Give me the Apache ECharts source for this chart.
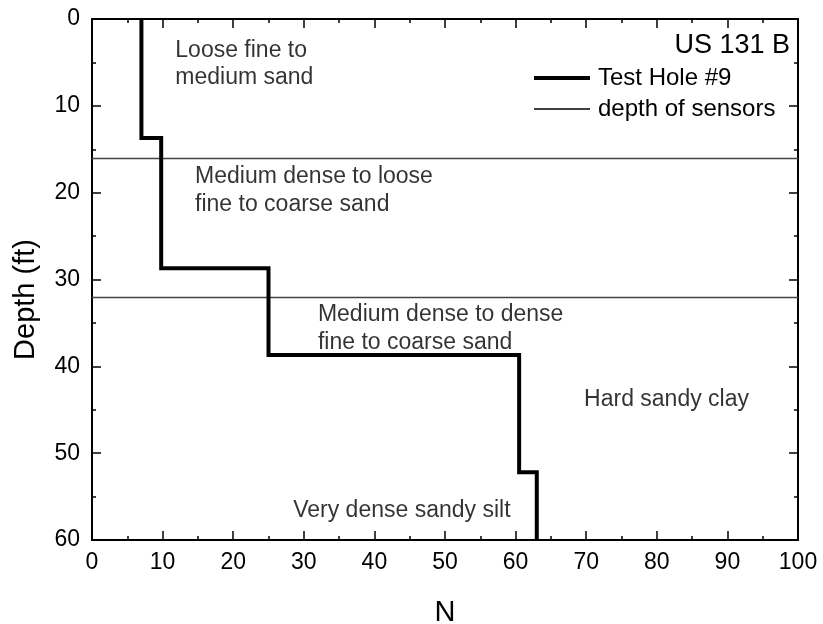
<!DOCTYPE html>
<html>
<head>
<meta charset="utf-8">
<script src="https://cdn.jsdelivr.net/npm/echarts@6/dist/echarts.min.js"></script>
<style>
  html, body { margin: 0; padding: 0; background: #fff; }
  #chart { width: 823px; height: 624px; }
</style>
</head>
<body>
<div id="chart"></div>
<script>
// SPT blow count profile for test hole #9
const layerTop    = [0, 13.7, 28.7, 38.7, 52.2];
const layerBottom = [13.7, 28.7, 38.7, 52.2, 60];
const blowCount   = [7, 9.8, 25, 60.5, 63];

// Sensor installation depths (ft)
const sensorDepths = [16, 32];

// Soil descriptions and where they sit (N, depth)
const noteText  = ['Loose fine to\nmedium sand',
                   'Medium dense to loose\nfine to coarse sand',
                   'Medium dense to dense\nfine to coarse sand',
                   'Hard sandy clay',
                   'Very dense sandy silt'];
const noteN     = [11.8, 14.6, 32.0, 69.7, 28.5];
const noteDepth = [5.2, 19.75, 35.65, 43.8, 56.6];

const seriesNames = ['Test Hole #9', 'depth of sensors'];
const siteName = 'US 131 B';

const FONT = "'Liberation Sans', Arial, Helvetica, sans-serif";

// Step profile: each layer contributes its top and bottom point
const profile = [];
blowCount.forEach((n, i) => {
  profile.push([n, layerTop[i]]);
  profile.push([n, layerBottom[i]]);
});

const notes = noteText.map((t, i) => [noteN[i], noteDepth[i], t]);

const tickCommon = {
  axisLine: { show: true, onZero: false, lineStyle: { color: '#000', width: 2 } },
  axisTick: { show: true, inside: true, length: 9, lineStyle: { color: '#000', width: 1.5 } },
  minorTick: { show: true, splitNumber: 2, length: 4, lineStyle: { color: '#000', width: 1.5 } },
  splitLine: { show: false },
  minorSplitLine: { show: false }
};

// legend markers are plain lines, no symbol
const hiddenSymbol = { color: 'rgba(0,0,0,0)', borderColor: 'rgba(0,0,0,0)', borderWidth: 0 };

const chart = echarts.init(document.getElementById('chart'), null, { renderer: 'canvas' });

chart.setOption({
  backgroundColor: '#fff',
  animation: false,
  textStyle: { fontFamily: FONT },
  title: {
    text: siteName,
    right: 28,
    top: 27,
    padding: 5,
    textStyle: { fontFamily: FONT, fontSize: 27, fontWeight: 'normal', color: '#000' }
  },
  legend: {
    data: [
      { name: seriesNames[0], lineStyle: { color: '#000', width: 4 }, itemStyle: hiddenSymbol },
      { name: seriesNames[1], lineStyle: { color: '#000', width: 1.5 }, itemStyle: hiddenSymbol }
    ],
    orient: 'vertical',
    left: 532,
    top: 66,
    padding: 0,
    itemWidth: 56,
    itemHeight: 14,
    itemGap: 7,
    textStyle: { fontFamily: FONT, fontSize: 24, color: '#000', padding: [0, 0, 0, 3] },
    selectedMode: false
  },
  grid: { left: 92, right: 25, top: 19, bottom: 84, containLabel: false, outerBoundsMode: 'none' },
  xAxis: [
    Object.assign({
      type: 'value', position: 'bottom', min: 0, max: 100, interval: 10,
      name: 'N', nameLocation: 'middle', nameGap: 58,
      nameTextStyle: { fontFamily: FONT, fontSize: 29, color: '#000' },
      axisLabel: { show: true, fontFamily: FONT, fontSize: 23, color: '#000', margin: 11 }
    }, tickCommon),
    Object.assign({
      type: 'value', position: 'top', min: 0, max: 100, interval: 10,
      axisLabel: { show: false }
    }, tickCommon)
  ],
  yAxis: [
    Object.assign({
      type: 'value', position: 'left', inverse: true, min: 0, max: 60, interval: 10,
      name: 'Depth (ft)', nameLocation: 'middle', nameGap: 52,
      nameTextStyle: { fontFamily: FONT, fontSize: 29, color: '#000', padding: [0, 40, 0, 0] },
      axisLabel: { show: true, fontFamily: FONT, fontSize: 23, color: '#000', margin: 12 }
    }, tickCommon),
    Object.assign({
      type: 'value', position: 'right', inverse: true, min: 0, max: 60, interval: 10,
      axisLabel: { show: false }
    }, tickCommon)
  ],
  series: [
    {
      name: seriesNames[0],
      type: 'line',
      data: profile,
      showSymbol: false,
      symbol: 'none',
      lineStyle: { color: '#000', width: 4, join: 'miter', cap: 'butt' },
      itemStyle: { color: '#000' },
      silent: true,
      z: 5
    },
    {
      name: seriesNames[1],
      type: 'line',
      data: [],
      symbol: 'none',
      lineStyle: { color: '#000', width: 1 },
      itemStyle: { color: '#000' },
      markLine: {
        silent: true,
        symbol: ['none', 'none'],
        label: { show: false },
        lineStyle: { color: '#444', width: 1.3, type: 'solid' },
        data: sensorDepths.map(d => ({ yAxis: d }))
      },
      z: 3
    },
    {
      name: 'notes',
      type: 'scatter',
      data: notes,
      symbolSize: 0,
      silent: true,
      label: {
        show: true,
        position: 'right',
        distance: 0,
        align: 'left',
        verticalAlign: 'middle',
        formatter: p => p.data[2],
        fontFamily: FONT,
        fontSize: 23,
        lineHeight: 27.5,
        color: '#000'
      },
      z: 4
    }
  ]
});
</script>
</body>
</html>
